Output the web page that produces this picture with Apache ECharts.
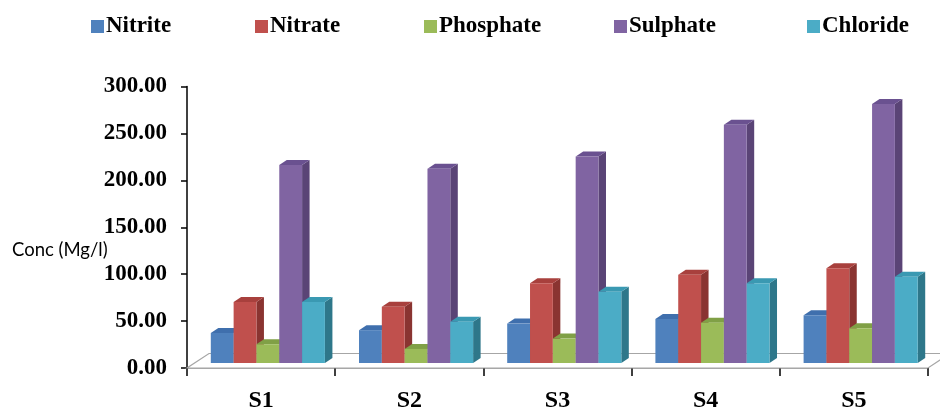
<!DOCTYPE html>
<html>
<head>
<meta charset="utf-8">
<title>Anion concentrations by site</title>
<script src="https://cdn.jsdelivr.net/npm/echarts@6/dist/echarts.min.js"></script>
<style>
  html, body { margin: 0; padding: 0; background: #ffffff; }
  #chart { width: 940px; height: 409px; }
</style>
</head>
<body>
<div id="chart"></div>
<script>
// Sampling sites
const sites = ['S1', 'S2', 'S3', 'S4', 'S5'];

// Concentrations (Mg/l) per parameter
const nitrite   = [32, 35, 42, 47, 51];
const nitrate   = [65, 60, 85, 94, 101];
const phosphate = [20, 15, 26, 43, 37];
const sulphate  = [211, 207, 220, 254, 276];
const chloride  = [65, 44, 76, 85, 92];

// Value axis ticks
const yTicks = [0, 50, 100, 150, 200, 250, 300];

const seriesNames = ['Nitrite', 'Nitrate', 'Phosphate', 'Sulphate', 'Chloride'];
const seriesValues = [nitrite, nitrate, phosphate, sulphate, chloride];

// Face shades for each box: front, top, side
const shades = [
  { front: '#4F81BD', top: '#3F6FAD', side: '#385D8A' },
  { front: '#C0504D', top: '#A8403D', side: '#8A3431' },
  { front: '#9BBB59', top: '#80A046', side: '#6E883B' },
  { front: '#8064A2', top: '#6A5190', side: '#5A4476' },
  { front: '#4BACC6', top: '#3A99B2', side: '#2E778A' }
];

// Oblique projection offsets (pixels)
const FLOOR_DX = 22, FLOOR_DY = -14.5;   // full floor depth
const FRONT_DX = 7.5, FRONT_DY = -5;     // bars stand this far back on the floor
const BAR_DX = 7.5, BAR_DY = -5;         // depth of each bar
const GROUP_INSET = 0.11;                // left inset of group inside a category band
const BAR_FRAC = 0.154;                  // bar width as a fraction of the band

const SERIF = '"Liberation Serif", "Times New Roman", serif';

function boxRenderer(k) {
  const c = shades[k];
  return function (params, api) {
    const idx = api.value(0);
    const v = api.value(1);
    const base = api.coord([idx, 0]);
    const topPt = api.coord([idx, v]);
    const band = api.size([1, 0])[0];
    const bw = band * BAR_FRAC;
    const xl = base[0] - band / 2 + band * GROUP_INSET + FRONT_DX + k * bw;
    const xr = xl + bw;
    const yb = base[1] + FRONT_DY;
    const yt = topPt[1] + FRONT_DY;
    return {
      type: 'group',
      children: [
        { type: 'polygon',
          shape: { points: [[xr, yb], [xr, yt], [xr + BAR_DX, yt + BAR_DY], [xr + BAR_DX, yb + BAR_DY]] },
          style: { fill: c.side } },
        { type: 'polygon',
          shape: { points: [[xl, yt], [xr, yt], [xr + BAR_DX, yt + BAR_DY], [xl + BAR_DX, yt + BAR_DY]] },
          style: { fill: c.top } },
        { type: 'rect',
          shape: { x: xl, y: yt, width: bw, height: yb - yt },
          style: { fill: c.front } }
      ]
    };
  };
}

// Floor plane of the 3-D plot area
function floorRenderer(params) {
  const cs = params.coordSys;
  const x0 = cs.x, x1 = cs.x + cs.width, y0 = cs.y + cs.height;
  return {
    type: 'polygon',
    shape: { points: [[x0, y0], [x1, y0], [x1 + FLOOR_DX, y0 + FLOOR_DY], [x0 + FLOOR_DX, y0 + FLOOR_DY]] },
    style: { fill: '#FFFFFF', stroke: '#A6A6A6', lineWidth: 1.2 }
  };
}

const series = [{
  type: 'custom',
  name: 'floor',
  silent: true,
  z: 1,
  data: [[0, 0]],
  renderItem: floorRenderer
}];

seriesNames.forEach(function (name, k) {
  series.push({
    type: 'custom',
    name: name,
    z: 2 + k,
    itemStyle: { color: shades[k].front },
    encode: { x: 0, y: 1 },
    data: seriesValues[k].map(function (v, i) { return [i, v]; }),
    renderItem: boxRenderer(k)
  });
});

// Individually placed legend entries
const legendLeft = [86, 250, 419, 609, 802];
const legends = seriesNames.map(function (name, k) {
  return {
    data: [name],
    left: legendLeft[k],
    top: 10,
    icon: 'rect',
    itemWidth: 13,
    itemHeight: 13,
    selectedMode: false,
    textStyle: {
      fontFamily: SERIF,
      fontWeight: 'bold',
      fontSize: 23,
      color: '#000000',
      padding: [0, 0, 0, -3]
    }
  };
});

const chart = echarts.init(document.getElementById('chart'), null, { renderer: 'canvas' });
chart.setOption({
  animation: false,
  backgroundColor: '#FFFFFF',
  legend: legends,
  grid: {
    left: 187, right: 12, top: 86.5, bottom: 41,
    containLabel: false,
    outerBoundsMode: 'none'
  },
  xAxis: {
    type: 'category',
    data: sites,
    boundaryGap: true,
    axisLine: { show: true, lineStyle: { color: '#8C8C8C', width: 1.5 } },
    axisTick: { show: true, length: 8, lineStyle: { color: '#000000', width: 1.5 } },
    axisLabel: {
      margin: 21,
      fontFamily: SERIF,
      fontWeight: 'bold',
      fontSize: 24,
      color: '#000000'
    },
    splitLine: { show: false }
  },
  yAxis: {
    type: 'value',
    min: yTicks[0],
    max: yTicks[yTicks.length - 1],
    interval: yTicks[1] - yTicks[0],
    axisLine: { show: true, lineStyle: { color: '#000000', width: 1.5 } },
    axisTick: { show: true, length: 6, lineStyle: { color: '#000000', width: 1.5 } },
    axisLabel: {
      margin: 20,
      fontFamily: SERIF,
      fontWeight: 'bold',
      fontSize: 23,
      color: '#000000',
      padding: [5, 0, 0, 0],
      formatter: function (v) { return v.toFixed(2); }
    },
    splitLine: { show: false }
  },
  graphic: [{
    type: 'text',
    left: 12,
    top: 241,
    style: {
      text: 'Conc (Mg/l)',
      font: '18.5px Lato, "Open Sans", sans-serif',
      fill: '#000000'
    }
  }],
  series: series
});
</script>
</body>
</html>
